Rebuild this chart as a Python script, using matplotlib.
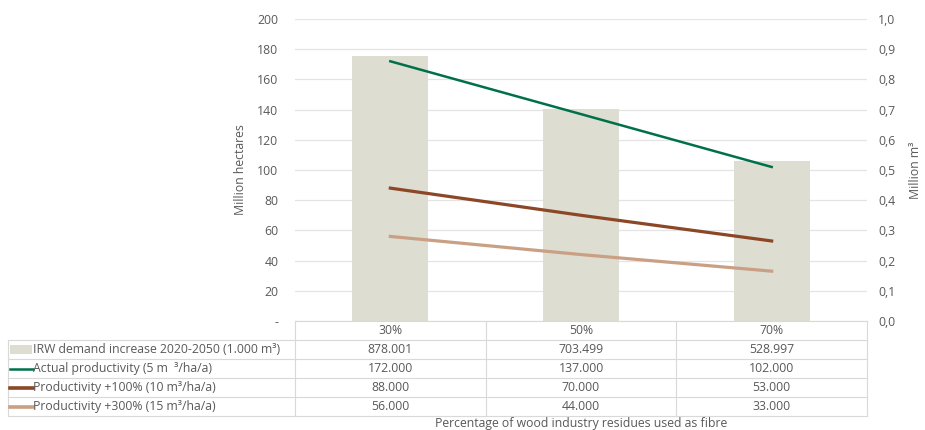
import matplotlib.pyplot as plt
from matplotlib.lines import Line2D
from matplotlib.patches import Rectangle
from matplotlib.transforms import blended_transform_factory

# ==========================================================
# Data
# ==========================================================

categories = ["30%", "50%", "70%"]

irw_demand = [0.878001, 0.703499, 0.528997]        # million m3 (right axis)
actual_prod = [172, 137, 102]                        # left axis
prod_100 = [88, 70, 53]
prod_300 = [56, 44, 33]

table_labels = [
    "IRW demand increase 2020-2050 (1.000 m³)",
    "Actual productivity (5 m  ³/ha/a)",
    "Productivity +100% (10 m³/ha/a)",
    "Productivity +300% (15 m³/ha/a)",
]
table_values = [
    ["878.001", "703.499", "528.997"],
    ["172.000", "137.000", "102.000"],
    ["88.000", "70.000", "53.000"],
    ["56.000", "44.000", "33.000"],
]

left_ticks = [0, 20, 40, 60, 80, 100, 120, 140, 160, 180, 200]
left_tick_labels = ["-", "20", "40", "60", "80", "100", "120", "140", "160", "180", "200"]
right_ticks = [0.0, 0.1, 0.2, 0.3, 0.4, 0.5, 0.6, 0.7, 0.8, 0.9, 1.0]
right_tick_labels = ["0,0", "0,1", "0,2", "0,3", "0,4", "0,5", "0,6", "0,7", "0,8", "0,9", "1,0"]

# ==========================================================
# Style
# ==========================================================

BAR = "#deddd2"
GREEN = "#00704a"
BROWN = "#8b4726"
TAN = "#c9a083"
TXT = "#595959"
GRID = "#e4e4e4"
FS = 8.8

plt.rcParams["font.family"] = ["Open Sans", "DejaVu Sans"]

W, H = 925, 430
fig = plt.figure(figsize=(W / 100, H / 100), dpi=100)


def fx(px):
    return px / W


def fy(py):
    return 1 - py / H


ax_l, ax_r, ax_t, ax_b = 295, 867, 19, 321
ax = fig.add_axes([fx(ax_l), fy(ax_b), fx(ax_r - ax_l), fy(ax_t) - fy(ax_b)])
ax2 = ax.twinx()

x = list(range(len(categories)))

# bars on the right axis, behind lines
ax2.set_zorder(0)
ax.set_zorder(1)
ax.patch.set_visible(False)

ax2.bar(x, irw_demand, width=0.4, color=BAR)

ax.plot(x, actual_prod, color=GREEN, lw=1.8)
ax.plot(x, prod_100, color=BROWN, lw=2.3)
ax.plot(x, prod_300, color=TAN, lw=2.3)

ax.set_xlim(-0.5, 2.5)
ax.set_ylim(0, 200)
ax2.set_ylim(0, 1.0)

ax.set_yticks(left_ticks)
ax.set_yticklabels(left_tick_labels)
ax2.set_yticks(right_ticks)
ax2.set_yticklabels(right_tick_labels)
ax.set_xticks([])

for a in (ax, ax2):
    for s in a.spines.values():
        s.set_visible(False)
    a.tick_params(axis="y", length=0, labelsize=FS, colors=TXT)

ax.tick_params(axis="y", pad=12)
ax2.tick_params(axis="y", pad=8)

ax2.yaxis.grid(True, color=GRID, lw=0.9)
ax2.set_axisbelow(True)

ax.set_ylabel("Million hectares", fontsize=FS, color=TXT, labelpad=7)
ax2.set_ylabel("Million m³", fontsize=FS, color=TXT, labelpad=10)

# ==========================================================
# Data table
# ==========================================================

tr = blended_transform_factory(ax.transData, fig.transFigure)
row_edges = [321, 340, 359, 378, 397, 416]
LINE = "#d9d9d9"

# horizontal lines
for i, py in enumerate(row_edges):
    x0 = ax_l if i == 0 else 8
    fig.add_artist(Line2D([fx(x0), fx(ax_r)], [fy(py), fy(py)], color=LINE, lw=0.8))

# vertical lines
for px in [295, ax_r]:
    fig.add_artist(Line2D([fx(px), fx(px)], [fy(321), fy(416)], color=LINE, lw=0.8))
for xb in [0.5, 1.5]:
    fig.add_artist(Line2D([xb, xb], [fy(321), fy(416)], color=LINE, lw=0.8, transform=tr))
fig.add_artist(Line2D([fx(8), fx(8)], [fy(340), fy(416)], color=LINE, lw=0.8))

# header
for i, c in enumerate(categories):
    fig.text(i, fy(330.5), c, transform=tr, ha="center", va="center", fontsize=FS, color=TXT)

# rows
for r, (lab, vals) in enumerate(zip(table_labels, table_values)):
    yc = fy((row_edges[r + 1] + row_edges[r + 2]) / 2)
    fig.text(fx(33), yc, lab, ha="left", va="center", fontsize=FS, color=TXT)
    for i, v in enumerate(vals):
        fig.text(i, yc, v, transform=tr, ha="center", va="center", fontsize=FS, color=TXT)

# legend keys
key_y = [fy((row_edges[r + 1] + row_edges[r + 2]) / 2) for r in range(4)]
fig.add_artist(Rectangle((fx(10), key_y[0] - 0.011), fx(22), 0.022, color=BAR, lw=0))
for yk, col, lw in zip(key_y[1:], [GREEN, BROWN, TAN], [1.8, 2.6, 2.6]):
    fig.add_artist(Line2D([fx(10), fx(33)], [yk, yk], color=col, lw=lw))

fig.text((fx(ax_l) + fx(ax_r)) / 2, fy(423.5), "Percentage of wood industry residues used as fibre",
         ha="center", va="center", fontsize=FS, color=TXT)

fig.savefig("out.png", dpi=100)
